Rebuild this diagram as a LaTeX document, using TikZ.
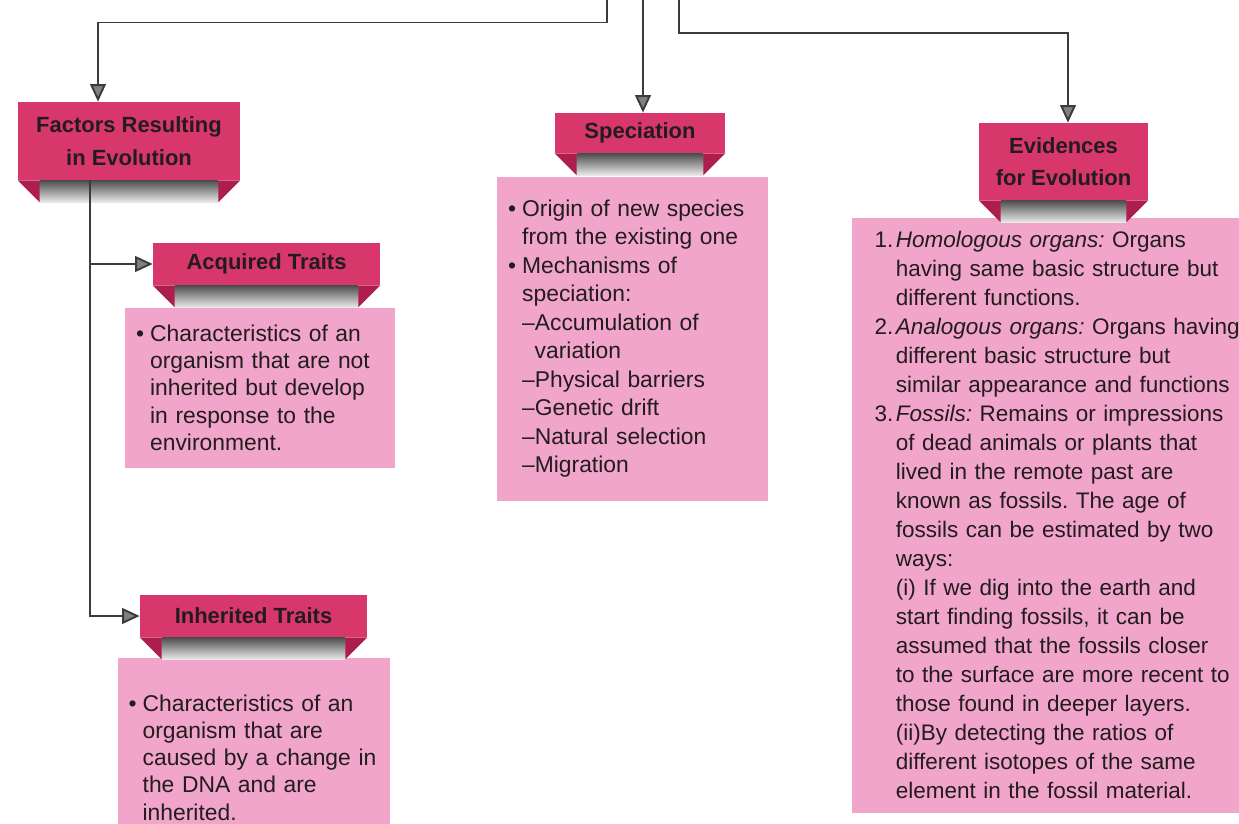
\documentclass[tikz,border=0pt]{standalone}
\usepackage{fontspec}
\setmainfont{Liberation Sans}
\usetikzlibrary{arrows.meta,positioning}

\definecolor{headpink}{HTML}{D8376C}
\definecolor{folddark}{HTML}{AE1E4C}
\definecolor{boxpink}{HTML}{F1A5CA}
\definecolor{inkdark}{HTML}{221C1E}
\definecolor{linegray}{HTML}{3C3C3C}

\newcommand{\bitem}{\makebox[0.62em][l]{\textbullet}}
\newcommand{\bpad}{\hspace*{0.62em}}
\newcommand{\nitem}[1]{\makebox[0.95em][l]{#1}}
\newcommand{\npad}{\hspace*{0.95em}}
\frenchspacing

\begin{document}
\begin{tikzpicture}[font=\fontsize{13}{16.2}\selectfont, text=inkdark]
    \tikzstyle{head} = [rectangle, fill=headpink, align=center, inner sep=2pt, font=\fontsize{12.5}{18.5}\selectfont\bfseries]
    \tikzstyle{info} = [rectangle, fill=boxpink, align=left, inner xsep=0.22cm, inner ysep=0.2cm, execute at begin node={\hyphenpenalty=10000\relax}]
    \tikzstyle{link} = [draw=linegray, line width=1.1pt, -{Triangle[width=9pt,length=10pt,fill=gray]}]

    \useasboundingbox (0,0) rectangle (24.78,-16.46);

    % headers
    \node [head, minimum width=4.44cm, minimum height=1.56cm] (fac) at (2.58,-2.82) {Factors Resulting\\in Evolution};
    \node [head, minimum width=4.54cm, minimum height=0.84cm] (acq) at (5.33,-5.28) {Acquired Traits};
    \node [head, minimum width=4.54cm, minimum height=0.84cm] (inh) at (5.07,-12.32) {Inherited Traits};
    \node [head, minimum width=3.4cm, minimum height=0.8cm] (spe) at (12.8,-2.66) {Speciation};
    \node [head, minimum width=3.38cm, minimum height=1.54cm] (evi) at (21.27,-3.23) {Evidences\\for Evolution};

    % boxes
    \node [info, below=0.44cm of acq, xshift=-0.13cm, text width=4.96cm, minimum height=3.2cm, font=\fontsize{13}{15.6}\selectfont] (acqtxt) {%
        \bitem Characteristics of an\\
        \bpad organism that are not\\
        \bpad inherited but develop\\
        \bpad in response to the\\
        \bpad environment.};
    \node [info, below=0.4cm of inh, text width=5.0cm, minimum height=4.0cm, font=\fontsize{13}{15.4}\selectfont] (inhtxt) {%
        \bitem Characteristics of an\\
        \bpad organism that are\\
        \bpad caused by a change in\\
        \bpad the DNA and are\\
        \bpad inherited.};
    \node [info, below=0.46cm of spe, xshift=-0.15cm, text width=4.98cm, minimum height=6.48cm] (spetxt) {%
        \bitem Origin of new species\\
        \bpad from the existing one\\
        \bitem Mechanisms of\\
        \bpad speciation:\\
        \bpad \textendash Accumulation of\\
        \bpad \hspace*{0.55em}variation\\
        \bpad \textendash Physical barriers\\
        \bpad \textendash Genetic drift\\
        \bpad \textendash Natural selection\\
        \bpad \textendash Migration};
    \node [info, below=0.34cm of evi, xshift=0.22cm, inner xsep=0.45cm, text width=8cm, minimum height=11.9cm, font=\fontsize{12.8}{16.5}\selectfont] (evitxt) {%
        \nitem{1.}\textit{Homologous organs:} Organs\\
        \npad having same basic structure but\\
        \npad different functions.\\
        \nitem{2.}\textit{Analogous organs:} Organs having\\
        \npad different basic structure but\\
        \npad similar appearance and functions\\
        \nitem{3.}\textit{Fossils:} Remains or impressions\\
        \npad of dead animals or plants that\\
        \npad lived in the remote past are\\
        \npad known as fossils. The age of\\
        \npad fossils can be estimated by two\\
        \npad ways:\\
        \npad (i) If we dig into the earth and\\
        \npad start finding fossils, it can be\\
        \npad assumed that the fossils closer\\
        \npad to the surface are more recent to\\
        \npad those found in deeper layers.\\
        \npad (ii)By detecting the ratios of\\
        \npad different isotopes of the same\\
        \npad element in the fossil material.};

    % ribbon folds under each header
    \foreach \n in {fac,acq,inh,spe,evi} {
        \shade [top color=black!70, bottom color=black!8] ([xshift=0.44cm]\n.south west) rectangle ([xshift=-0.44cm, yshift=-0.44cm]\n.south east);
        \fill [folddark] (\n.south west) -- ++(0.44,0) -- ++(0,-0.44) -- cycle;
        \fill [folddark] (\n.south east) -- ++(-0.44,0) -- ++(0,-0.44) -- cycle;
    }

    % connectors
    \coordinate (in1) at (12.14,0);
    \coordinate (in2) at (12.86,0);
    \coordinate (in3) at (13.58,0);
    \draw [link] (in1) -- ++(0,-0.45) -| ([xshift=-0.62cm]fac.north);
    \draw [link] (in2) -- (in2 |- spe.north);
    \draw [link] (in3) -- ++(0,-0.66) -| ([xshift=0.09cm]evi.north);
    \draw [link] ([xshift=-0.78cm]fac.south) |- (acq.west);
    \draw [link] ([xshift=-0.78cm]fac.south) |- (inh.west);
\end{tikzpicture}
\end{document}
